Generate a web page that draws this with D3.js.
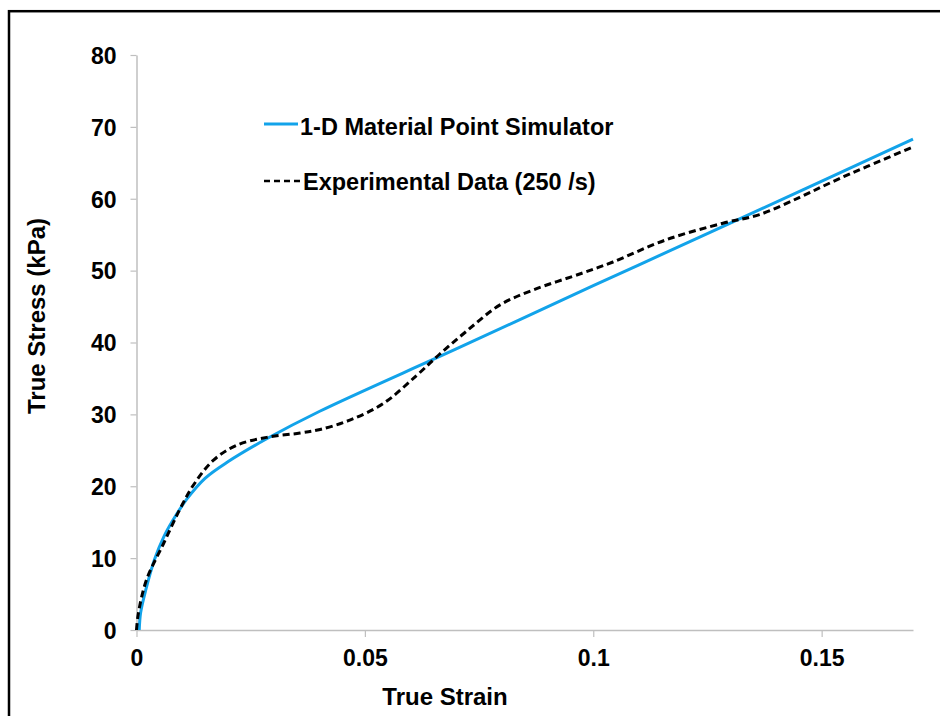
<!DOCTYPE html>
<html>
<head>
<meta charset="utf-8">
<script src="https://cdn.jsdelivr.net/npm/d3@7"></script>
<style>
  body { margin: 0; background: #fff; }
  svg { display: block; font-family: Arial, "Liberation Sans", Helvetica, sans-serif; font-weight: bold; }
</style>
</head>
<body>
<svg id="chart"></svg>
<script>
// Data: simulator curve (strain, stress kPa)
const simStrain = [0.0006, 0.0009, 0.002, 0.004, 0.006, 0.008, 0.011, 0.015, 0.02, 0.0285, 0.04, 0.07, 0.1, 0.13, 0.17];
const simStress = [0, 2.4, 5.5, 9.9, 13, 15.3, 18.2, 21.1, 23.4, 26.6, 30.4, 39.1, 47.9, 56.6, 68.3];

// Data: experimental curve (250 /s)
const expStrain = [0, 0.0004, 0.0022, 0.0059, 0.0095, 0.0124, 0.0168, 0.0219, 0.0285, 0.0358, 0.0402, 0.0467, 0.054, 0.0613, 0.0664, 0.0723, 0.0795, 0.0868, 0.0978, 0.1043, 0.116, 0.1284, 0.1364, 0.1452, 0.1525, 0.16, 0.17];
const expStress = [0, 2.3, 7, 12, 16.8, 20.1, 23.6, 25.7, 26.8, 27.4, 27.9, 29.2, 31.5, 35.4, 38.4, 41.6, 45.2, 47.3, 49.7, 51.2, 54.3, 56.6, 57.8, 60.2, 62.4, 64.5, 67.2];

// Tick labels
const xTicks = [0, 0.05, 0.1, 0.15];
const yTicks = [0, 10, 20, 30, 40, 50, 60, 70, 80];

const seriesNames = ["1-D Material Point Simulator", "Experimental Data (250 /s)"];

const width = 940;
const height = 716;
const margin = { top: 55, right: 27, bottom: 86, left: 136.5 };

const svg = d3.select("#chart")
    .attr("width", width)
    .attr("height", height);

// Frame round the figure (runs off the right and bottom edge)
svg.append("rect")
    .attr("x", 9)
    .attr("y", 11.2)
    .attr("width", width + 20)
    .attr("height", height + 20)
    .attr("fill", "none")
    .attr("stroke", "#000")
    .attr("stroke-width", 2.5);

// Scales
const x = d3.scaleLinear()
    .domain([0, 0.17])
    .range([margin.left, width - margin.right]);

const y = d3.scaleLinear()
    .domain([0, 80])
    .range([height - margin.bottom, margin.top]);

// Axes
const xAxis = svg.append("g")
    .attr("transform", `translate(0,${y(0)})`)
    .call(d3.axisBottom(x).tickValues(xTicks).tickFormat(d3.format("~g")).tickSize(7).tickSizeOuter(0).tickPadding(13));

const yAxis = svg.append("g")
    .attr("transform", `translate(${x(0)},0)`)
    .call(d3.axisLeft(y).tickValues(yTicks).tickSize(6).tickSizeOuter(0).tickPadding(14));

[xAxis, yAxis].forEach(g => {
    g.select(".domain").attr("stroke", "#bfbfbf").attr("stroke-width", 1.5);
    g.selectAll(".tick line").attr("stroke", "#bfbfbf").attr("stroke-width", 1.2);
    g.selectAll(".tick text")
        .attr("fill", "#000")
        .style("font-size", "23px")
        .style("font-weight", "bold")
        .style("font-family", "Arial, 'Liberation Sans', sans-serif");
});
yAxis.selectAll(".tick text").attr("dy", "0.36em");

// Axis titles
svg.append("text")
    .attr("x", 445)
    .attr("y", 705)
    .attr("text-anchor", "middle")
    .style("font-size", "24px")
    .text("True Strain");

svg.append("text")
    .attr("transform", "translate(45,316) rotate(-90)")
    .attr("text-anchor", "middle")
    .style("font-size", "24px")
    .text("True Stress (kPa)");

// Lines
const line = d3.line()
    .x(d => x(d[0]))
    .y(d => y(d[1]))
    .curve(d3.curveCatmullRom.alpha(0.5));

const simData = simStrain.map((s, i) => [s, simStress[i]]);
const expData = expStrain.map((s, i) => [s, expStress[i]]);

svg.append("path")
    .datum(simData)
    .attr("fill", "none")
    .attr("stroke", "#12a3ea")
    .attr("stroke-width", 3)
    .attr("d", line);

svg.append("path")
    .datum(expData)
    .attr("fill", "none")
    .attr("stroke", "#000")
    .attr("stroke-width", 3)
    .attr("stroke-dasharray", "7,4")
    .attr("d", line);

// Legend
const legend = svg.append("g");
legend.append("line")
    .attr("x1", 264).attr("x2", 298)
    .attr("y1", 124).attr("y2", 124)
    .attr("stroke", "#12a3ea")
    .attr("stroke-width", 3);
legend.append("text")
    .attr("x", 300)
    .attr("y", 135)
    .style("font-size", "23.5px")
    .text(seriesNames[0]);

legend.append("line")
    .attr("x1", 264).attr("x2", 301)
    .attr("y1", 181).attr("y2", 181)
    .attr("stroke", "#000")
    .attr("stroke-width", 2.5)
    .attr("stroke-dasharray", "6,4");
legend.append("text")
    .attr("x", 303)
    .attr("y", 190)
    .style("font-size", "23.5px")
    .text(seriesNames[1]);
</script>
</body>
</html>
